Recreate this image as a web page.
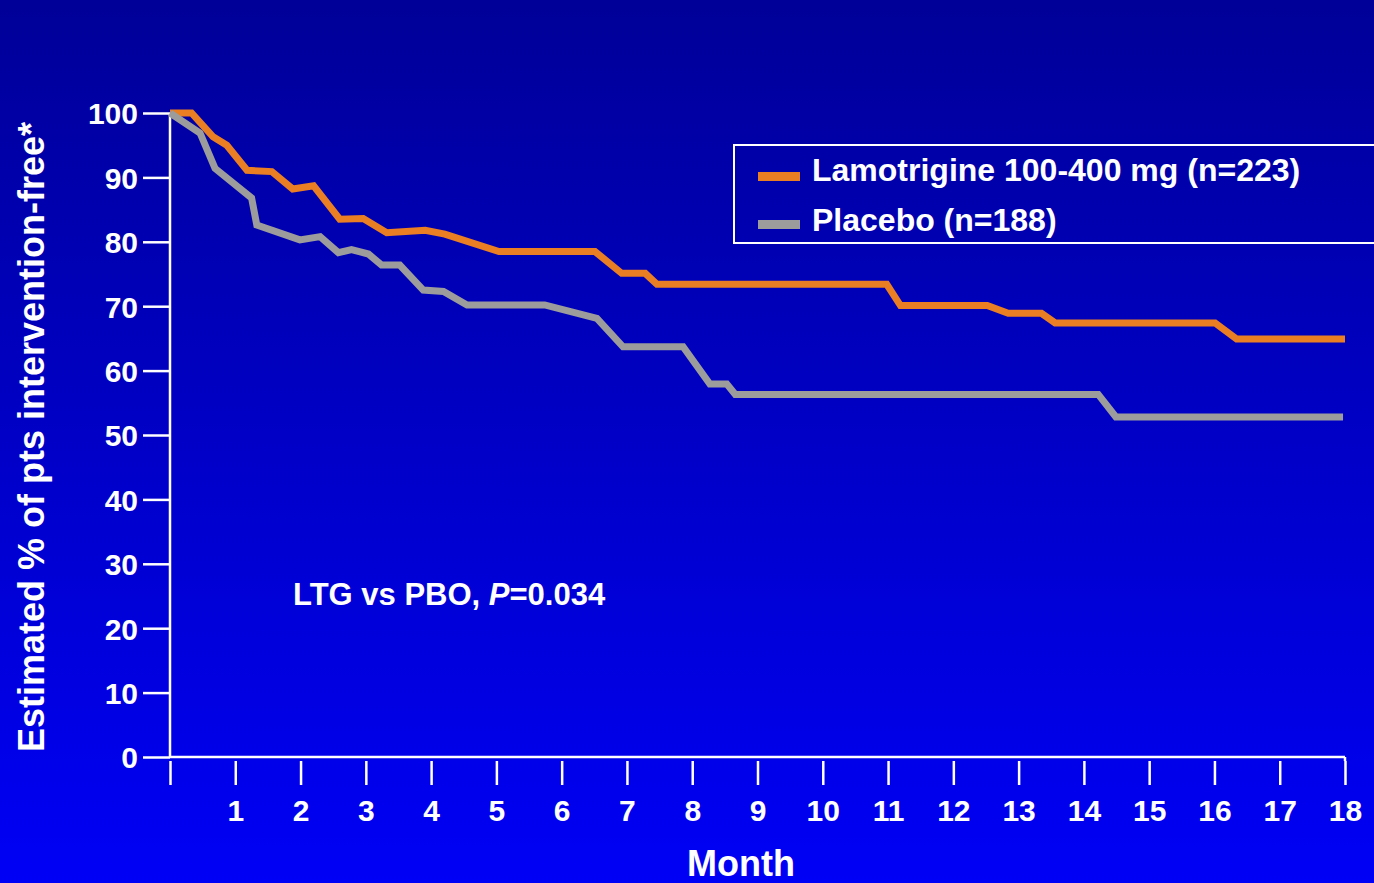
<!DOCTYPE html>
<html>
<head>
<meta charset="utf-8">
<script src="https://cdn.jsdelivr.net/npm/d3@7"></script>
<style>
  body { margin: 0; overflow: hidden; }
  text { font-family: 'Liberation Sans', Arial, sans-serif; font-weight: bold; fill: #fff; }
</style>
</head>
<body>
<div id="chart"></div>
<script>
// Kaplan-Meier style steps, [month, % intervention-free]
const lamotrigine = [
  [0, 100], [0.33, 100], [0.66, 96.3], [0.87, 95.0], [1.18, 91.1], [1.56, 90.9],
  [1.88, 88.2], [2.2, 88.7], [2.6, 83.5], [2.96, 83.6], [3.32, 81.4], [3.91, 81.8],
  [4.21, 81.2], [5.04, 78.5], [6.51, 78.5], [6.92, 75.1], [7.28, 75.1], [7.46, 73.4],
  [10.98, 73.4], [11.19, 70.1], [12.52, 70.1], [12.84, 68.9], [13.35, 68.9],
  [13.56, 67.4], [16.01, 67.4], [16.34, 64.9], [18, 64.9]
]

const placebo = [
  [0, 100], [0.46, 96.9], [0.69, 91.4], [1.25, 86.8], [1.33, 82.6], [1.99, 80.3],
  [2.3, 80.8], [2.58, 78.3], [2.78, 78.8], [3.04, 78.1], [3.24, 76.4], [3.52, 76.4],
  [3.88, 72.5], [4.19, 72.3], [4.55, 70.2], [5.74, 70.2], [6.54, 68.1], [6.94, 63.7],
  [7.86, 63.7], [8.27, 57.9], [8.53, 57.9], [8.66, 56.3], [14.22, 56.3],
  [14.49, 52.8], [17.97, 52.8]
]

const seriesNames = ['Lamotrigine 100-400 mg (n=223)', 'Placebo (n=188)']
const seriesColors = ['#e97e22', '#9c9c9c']
const monthTicks = d3.range(0, 19)
const percentTicks = d3.range(0, 101, 10)

const width = 1374
const height = 883
const margin = { top: 113, left: 170, right: 29, bottom: 126 }

const svg = d3
  .select('#chart')
  .append('svg')
  .attr('width', width)
  .attr('height', height)

const grad = svg
  .append('defs')
  .append('linearGradient')
  .attr('id', 'bg')
  .attr('x1', 0)
  .attr('y1', 0)
  .attr('x2', 0)
  .attr('y2', 1)
grad.append('stop').attr('offset', '0%').attr('stop-color', '#000098')
grad.append('stop').attr('offset', '100%').attr('stop-color', '#0000f6')

svg
  .append('rect')
  .attr('width', width)
  .attr('height', height)
  .attr('fill', 'url(#bg)')

const xPositionScale = d3
  .scaleLinear()
  .domain([0, 18])
  .range([margin.left, width - margin.right])

const yPositionScale = d3
  .scaleLinear()
  .domain([0, 100])
  .range([height - margin.bottom, margin.top])

const line = d3
  .line()
  .x(d => xPositionScale(d[0]))
  .y(d => yPositionScale(d[1]))

// y axis
const yAxis = d3
  .axisLeft(yPositionScale)
  .tickValues(percentTicks)
  .tickSize(27)
  .tickPadding(5)

svg
  .append('g')
  .attr('class', 'y-axis')
  .attr('transform', 'translate(' + margin.left + ',0)')
  .call(yAxis)
  .call(g => g.select('.domain').remove())
  .call(g => g.selectAll('.tick line').attr('stroke', '#fff').attr('stroke-width', 2.5))
  .call(g =>
    g
      .selectAll('.tick text')
      .attr('font-size', 30)
      .attr('font-family', null)
      .attr('dy', '0.36em')
  )

svg
  .append('line')
  .attr('x1', margin.left)
  .attr('x2', margin.left)
  .attr('y1', yPositionScale(100))
  .attr('y2', yPositionScale(0))
  .attr('stroke', '#fff')
  .attr('stroke-width', 2.5)

// x axis
const xAxis = d3
  .axisBottom(xPositionScale)
  .tickValues(monthTicks)
  .tickSize(28)
  .tickPadding(7)
  .tickFormat(d => (d === 0 ? '' : d))

svg
  .append('g')
  .attr('class', 'x-axis')
  .attr('transform', 'translate(0,' + yPositionScale(0) + ')')
  .call(xAxis)
  .call(g => g.select('.domain').remove())
  .call(g =>
    g
      .selectAll('.tick line')
      .attr('y1', 4)
      .attr('stroke', '#fff')
      .attr('stroke-width', 2.5)
  )
  .call(g =>
    g
      .selectAll('.tick text')
      .attr('font-size', 30)
      .attr('font-family', null)
      .attr('dy', '0.95em')
  )

svg
  .append('line')
  .attr('x1', margin.left)
  .attr('x2', xPositionScale(18))
  .attr('y1', yPositionScale(0))
  .attr('y2', yPositionScale(0))
  .attr('stroke', '#fff')
  .attr('stroke-width', 2.5)

svg
  .append('line')
  .attr('x1', xPositionScale(18))
  .attr('x2', xPositionScale(18))
  .attr('y1', yPositionScale(0))
  .attr('y2', yPositionScale(0) + 4)
  .attr('stroke', '#fff')
  .attr('stroke-width', 2.5)

// axis titles
svg
  .append('text')
  .attr('transform', 'translate(44,' + (margin.top + 324) + ') rotate(-90)')
  .attr('text-anchor', 'middle')
  .attr('font-size', 36)
  .text('Estimated % of pts intervention-free*')

svg
  .append('text')
  .attr('x', 741)
  .attr('y', 876)
  .attr('text-anchor', 'middle')
  .attr('font-size', 36)
  .text('Month')

// curves
svg
  .selectAll('.curve')
  .data([lamotrigine, placebo])
  .enter()
  .append('path')
  .attr('class', 'curve')
  .attr('d', line)
  .attr('fill', 'none')
  .attr('stroke', (d, i) => seriesColors[i])
  .attr('stroke-width', 7)
  .attr('stroke-linejoin', 'miter')

// legend
const legend = svg.append('g').attr('transform', 'translate(734,145)')

legend
  .append('rect')
  .attr('width', 660)
  .attr('height', 98)
  .attr('fill', 'none')
  .attr('stroke', '#fff')
  .attr('stroke-width', 2)

legend
  .selectAll('.swatch')
  .data(seriesNames)
  .enter()
  .append('rect')
  .attr('class', 'swatch')
  .attr('x', 24)
  .attr('y', (d, i) => 27 + i * 48)
  .attr('width', 42)
  .attr('height', 9)
  .attr('fill', (d, i) => seriesColors[i])

legend
  .selectAll('.legend-label')
  .data(seriesNames)
  .enter()
  .append('text')
  .attr('class', 'legend-label')
  .attr('x', 78)
  .attr('y', (d, i) => 36 + i * 50)
  .attr('font-size', 32)
  .text(d => d)

// p-value note
const note = svg
  .append('text')
  .attr('x', 293)
  .attr('y', 605)
  .attr('font-size', 31)
note.append('tspan').text('LTG vs PBO, ')
note.append('tspan').attr('font-style', 'italic').text('P')
note.append('tspan').text('=0.034')
</script>
</body>
</html>
